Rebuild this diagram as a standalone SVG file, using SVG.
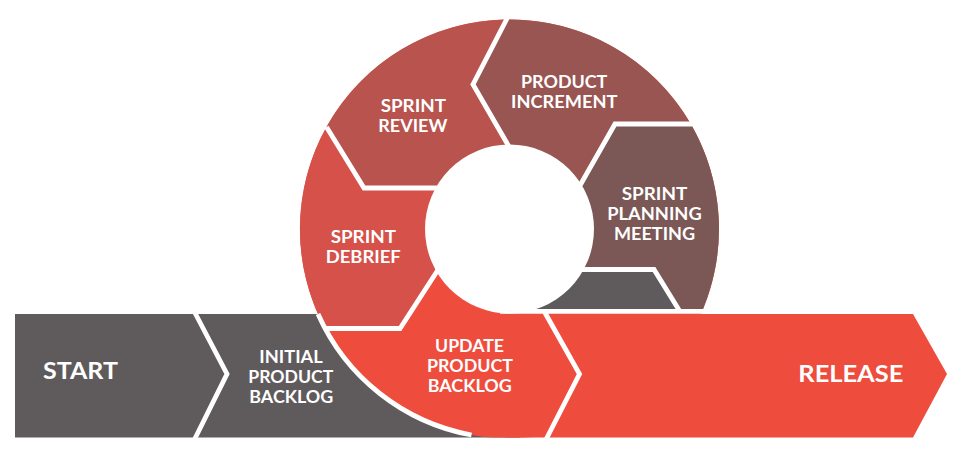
<svg xmlns="http://www.w3.org/2000/svg" width="953" height="451" viewBox="0 0 953 451">
  <style>
    .lbl { font-family: Lato, "Open Sans", "Liberation Sans", sans-serif; font-weight: 700; fill: #ffffff; text-anchor: middle; font-size: 16.5px; }
    .big { font-size: 22.5px; }
    .sep { fill: none; stroke: #ffffff; stroke-width: 4.8; stroke-linejoin: miter; stroke-miterlimit: 10; }
    .gray { fill: #5f5b5c; }
    .red { fill: #ee4d3e; }
  </style>
  <defs>
    <!-- keeps the ring from dropping below the bar's bottom edge -->
    <clipPath id="above-bar-bottom">
      <rect x="0" y="0" width="953" height="437.5"/>
    </clipPath>
  </defs>

  <!-- bottom bar: start and initial backlog -->
  <g id="start">
    <polygon class="gray" points="15,314 195.5,314 227,374 195.5,437.5 15,437.5"/>
    <text class="lbl big" x="80.5" y="379" textLength="75" lengthAdjust="spacingAndGlyphs">START</text>
  </g>
  <g id="initial-backlog">
    <polygon class="gray" points="195.5,314 520,314 520,437.5 195.5,437.5 227,374"/>
  </g>

  <!-- cycle ring, centre (509.5,229), outer r 209.5 -->
  <g id="update-backlog">
    <circle class="red" cx="509.5" cy="229" r="209.5" clip-path="url(#above-bar-bottom)"/>
    <polygon class="red" points="505,314 545.5,314 579.5,374 547,437.5 505,437.5"/>
  </g>
  <g id="sprint-debrief">
    <path fill="#d5514a" d="M509.5,229 L445,259 L400,328.5 L325,328.5 A209.5,209.5 0 0 1 326.5,127 L364,188 L450,188 Z"/>
  </g>
  <g id="sprint-review">
    <path fill="#b8544d" d="M509.5,229 L450,188 L364,188 L326.5,127 A209.5,209.5 0 0 1 506.5,19.5 L473,84.5 L515,157 Z"/>
  </g>
  <g id="product-increment">
    <path fill="#985551" d="M509.5,229 L515,157 L473,84.5 L506.5,19.5 A209.5,209.5 0 0 1 690.8,124 L615,124 L574,196 Z"/>
  </g>
  <g id="sprint-planning">
    <path fill="#7b5755" d="M509.5,229 L574,196 L615,124 L690.8,124 A209.5,209.5 0 0 1 703,309 L678.5,309 L654,269.5 L560,269.5 Z"/>
  </g>
  <g id="handoff">
    <path class="gray" d="M509.5,229 L560,269.5 L654,269.5 L678.5,309 L520,309 Z"/>
  </g>

  <g id="release">
    <polygon class="red" points="545.5,314 913,314 947,374 913,437.5 547,437.5 579.5,374"/>
    <text class="lbl big" x="850.8" y="381.5" textLength="105" lengthAdjust="spacingAndGlyphs">RELEASE</text>
  </g>

  <!-- centre hole -->
  <circle cx="509.5" cy="229" r="84.5" fill="#ffffff"/>

  <!-- white separators between stages -->
  <g id="connectors">
    <polyline class="sep" points="194,311 227,374 194,440.5"/>
    <polyline class="sep" points="544,311 579.5,374 545.5,440.5"/>
    <path class="sep" d="M318,314 A209.5,209.5 0 0 0 471.5,435"/>
    <polyline class="sep" points="445,259 400,328.5 325,328.5"/>
    <polyline class="sep" points="450,188 364,188 326.5,127"/>
    <polyline class="sep" points="515,157 473,84.5 506.5,19.5 507.5,17"/>
    <polyline class="sep" points="574,196 615,124 692,124"/>
    <polyline class="sep" points="560,269.5 654,269.5 679,310"/>
    <path class="sep" d="M500,311.3 H716"/>
  </g>

  <!-- stage labels -->
  <g class="labels">
    <text class="lbl" x="291" y="363.3" textLength="63.4" lengthAdjust="spacingAndGlyphs">INITIAL</text>
    <text class="lbl" x="290.8" y="383.3" textLength="85" lengthAdjust="spacingAndGlyphs">PRODUCT</text>
    <text class="lbl" x="291.3" y="403.3" textLength="84" lengthAdjust="spacingAndGlyphs">BACKLOG</text>

    <text class="lbl" x="469.5" y="351.7" textLength="69" lengthAdjust="spacingAndGlyphs">UPDATE</text>
    <text class="lbl" x="470" y="371.7" textLength="86" lengthAdjust="spacingAndGlyphs">PRODUCT</text>
    <text class="lbl" x="469.7" y="391.7" textLength="84" lengthAdjust="spacingAndGlyphs">BACKLOG</text>

    <text class="lbl" x="363.3" y="243.3" textLength="65.3" lengthAdjust="spacingAndGlyphs">SPRINT</text>
    <text class="lbl" x="363.2" y="263.3" textLength="75" lengthAdjust="spacingAndGlyphs">DEBRIEF</text>

    <text class="lbl" x="413.3" y="112.3" textLength="65.3" lengthAdjust="spacingAndGlyphs">SPRINT</text>
    <text class="lbl" x="412.8" y="132.3" textLength="69" lengthAdjust="spacingAndGlyphs">REVIEW</text>

    <text class="lbl" x="564.2" y="88.3" textLength="86.3" lengthAdjust="spacingAndGlyphs">PRODUCT</text>
    <text class="lbl" x="564.2" y="108.3" textLength="106.3" lengthAdjust="spacingAndGlyphs">INCREMENT</text>

    <text class="lbl" x="654.5" y="200" textLength="65.6" lengthAdjust="spacingAndGlyphs">SPRINT</text>
    <text class="lbl" x="654.5" y="220" textLength="94.4" lengthAdjust="spacingAndGlyphs">PLANNING</text>
    <text class="lbl" x="654.5" y="240" textLength="81" lengthAdjust="spacingAndGlyphs">MEETING</text>
  </g>
</svg>
